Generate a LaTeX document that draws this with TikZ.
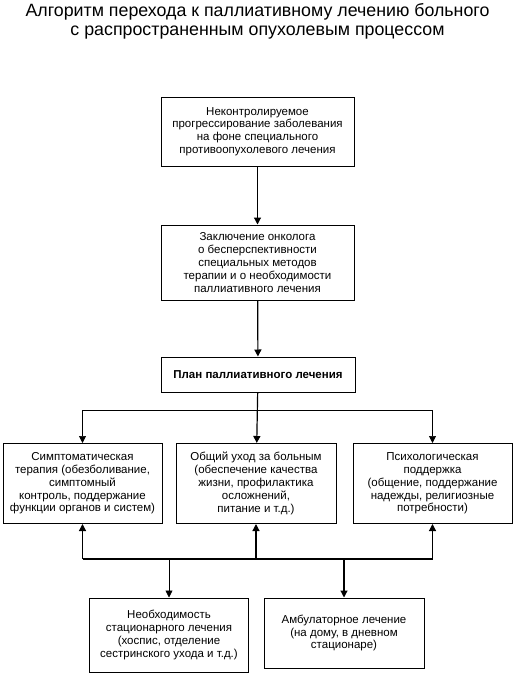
\documentclass[tikz,border=0pt]{standalone}
\usepackage{fontspec}
\setmainfont{Liberation Sans}
\usetikzlibrary{arrows.meta}
\tikzset{
  box/.style={draw, line width=1pt, align=center, inner sep=0pt,
    font=\fontsize{11.5}{12.8}\selectfont},
  arr/.style={line width=1.2pt, -{Triangle[length=7pt,width=7pt]}},
  thinarr/.style={line width=0.7pt, -{Triangle[length=7pt,width=7pt]}}
}
\begin{document}
\begin{tikzpicture}[x=1pt,y=-1pt]
				\useasboundingbox (0,0) rectangle (515,677);
				\node[align=center, font=\fontsize{17.8}{19.5}\selectfont] (title) at (257.5,21.5)
				{Алгоритм перехода к паллиативному лечению больного\\
				с распространенным опухолевым процессом};
				% main chain
				\node[box, minimum width=193pt, minimum height=69pt] (prog) at (257.5,131.5)
				{Неконтролируемое\\ прогрессирование заболевания\\ на фоне специального\\ противоопухолевого лечения};
				\node[box, minimum width=193pt, minimum height=75pt] (onco) at (257.5,262.5)
				{Заключение онколога\\ о бесперспективности\\ специальных методов\\ терапии и о необходимости\\ паллиативного лечения};
				\node[box, minimum width=194pt, minimum height=35pt, font=\fontsize{11.5}{12.8}\selectfont\bfseries] (plan) at (258,374.5)
				{План паллиативного лечения};
				% three kinds of help
				\node[box, minimum width=159pt, minimum height=80pt] (symp) at (82.5,483.5)
				{Симптоматическая\\ терапия (обезболивание,\\ симптомный\\ контроль, поддержание\\ функции органов и систем)};
				\node[box, minimum width=160pt, minimum height=80pt] (care) at (256,483.5)
				{Общий уход за больным\\ (обеспечение качества\\ жизни, профилактика\\ осложнений,\\ питание и т.д.)};
				\node[box, minimum width=159pt, minimum height=80pt] (psych) at (432.5,483.5)
				{Психологическая\\ поддержка\\ (общение, поддержание\\ надежды, религиозные\\ потребности)};
				% where
				\node[box, minimum width=159pt, minimum height=74pt] (stat) at (169,635)
				{Необходимость\\ стационарного лечения\\ (хоспис, отделение\\ сестринского ухода и т.д.)};
				\node[box, minimum width=160pt, minimum height=70pt] (amb) at (344,633)
				{Амбулаторное лечение\\ (на дому, в дневном\\ стационаре)};
				\path (plan.south) ++(0,18) coordinate (up)
				(257,559) coordinate (down);
				\draw[arr] (prog) -- (onco);
				\draw[arr] (onco) -- (plan);
				\draw[arr] (plan) -- (care);
				\draw[thinarr] (up) -| (symp);
				\draw[thinarr] (up) -| (psych);
				\draw[line width=1.2pt] (symp.south |- down) -- (psych.south |- down);
				\foreach \x in {symp, care, psych}
				\draw[arr] (\x.south |- down) -- (\x.south);
				\draw[thinarr] (stat.north |- down) -- (stat);
				\draw[arr] (amb.north |- down) -- (amb);
\end{tikzpicture}
\end{document}
